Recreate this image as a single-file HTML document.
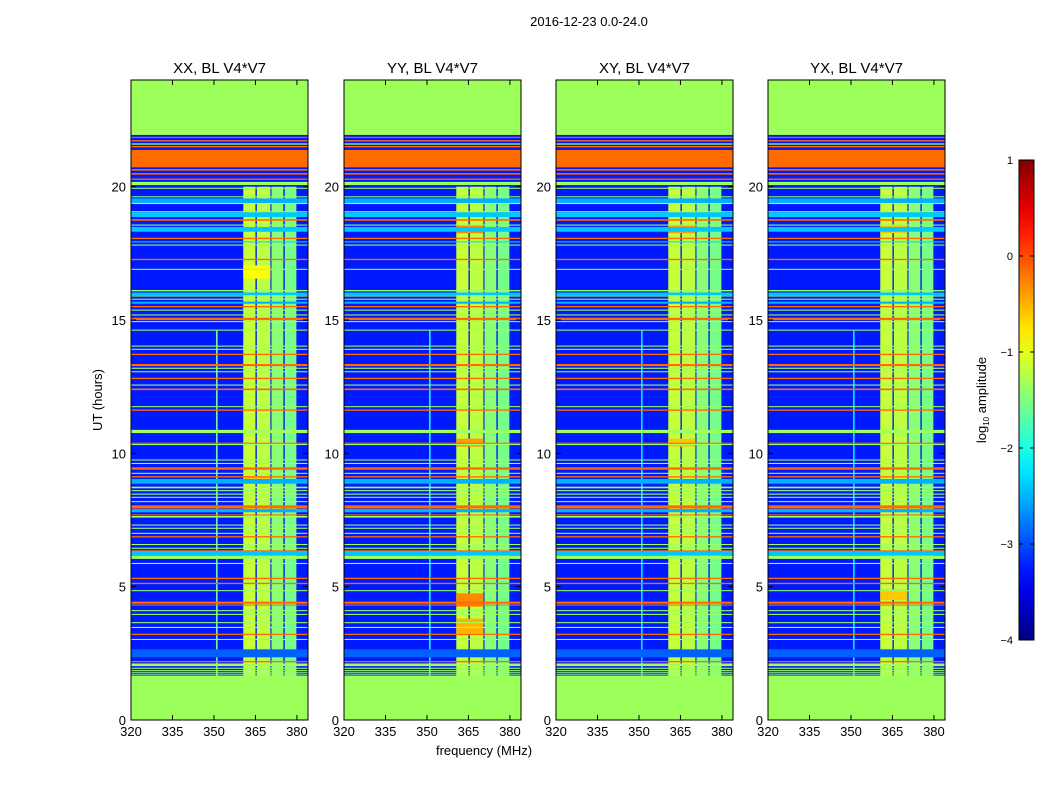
<!DOCTYPE html>
<html><head><meta charset="utf-8"><style>
html,body{margin:0;padding:0;background:#fff;}
svg{display:block;font-family:"Liberation Sans",sans-serif;}
</style></head><body>
<svg id="fig" width="1050" height="800" viewBox="0 0 1050 800"></svg>
<script>
// ---- data ----
const panelTitles = ["XX, BL V4*V7","YY, BL V4*V7","XY, BL V4*V7","YX, BL V4*V7"];
const xTicks = [320,335,350,365,380];
const yTicks = [0,5,10,15,20];
const cbTicks = [1,0,-1,-2,-3,-4];
const dataStart = 1.65, dataEnd = 21.94;
const bgValue = -3.25;
// horizontal RFI stripes: centre hour, thickness (hours), log10 amplitude
const stripeHours  = [21.85,21.72,21.6,21.5,21.05,20.63,20.48,20.28,20.12,19.94,19.62,19.47,19.37,19.06,18.95,18.75,18.56,18.4,18.06,17.93,17.81,17.27,16.9,16.1,15.98,15.9,15.78,15.65,15.5,15.37,15.19,15.04,14.94,14.62,14.02,13.9,13.71,13.31,13.19,13.06,12.81,12.56,12.4,11.75,11.62,10.82,10.38,10.33,9.75,9.62,9.43,9.25,9.12,8.95,8.72,8.6,8.47,8.35,8.19,7.99,7.85,7.69,7.62,7.31,7.19,7.0,6.87,6.58,6.44,6.34,6.25,6.1,5.87,5.31,5.12,4.85,4.4,4.31,4.1,3.96,3.65,3.47,3.21,3.02,2.5,2.19,2.07,1.94,1.85,1.77,1.69];
const stripeWidths = [0.04,0.05,0.05,0.05,0.65,0.06,0.06,0.05,0.12,0.04,0.04,0.18,0.04,0.04,0.18,0.06,0.04,0.18,0.05,0.04,0.04,0.05,0.04,0.05,0.1,0.04,0.04,0.08,0.05,0.04,0.04,0.09,0.04,0.04,0.04,0.04,0.05,0.08,0.04,0.04,0.05,0.04,0.06,0.04,0.05,0.12,0.04,0.04,0.04,0.04,0.09,0.04,0.05,0.18,0.06,0.04,0.04,0.04,0.04,0.12,0.12,0.04,0.06,0.04,0.04,0.04,0.05,0.04,0.04,0.05,0.18,0.12,0.04,0.05,0.05,0.04,0.08,0.04,0.04,0.04,0.04,0.04,0.05,0.04,0.3,0.05,0.1,0.04,0.04,0.04,0.04];
const stripeValues = [-0.15,-0.15,-1.35,-0.15,-0.15,-0.15,-0.15,-0.15,-1.35,-1.35,-1.35,-2.5,-1.35,-1.35,-2.4,-0.15,-1.35,-2.4,-0.15,-2.3,-1.35,-0.15,-1.35,-1.35,-2.4,-1.35,-1.35,-2.5,-0.15,-1.35,-1.35,-0.15,-1.35,-1.35,-1.35,-1.35,-0.15,-0.15,-1.35,-1.35,-0.15,-1.35,-0.15,-1.35,-0.15,-1.35,-0.15,-1.35,-1.35,-1.35,-0.15,-1.35,-0.15,-2.5,-1.35,-1.35,-1.35,-1.35,-1.35,-0.15,-2.5,-0.15,-1.35,-1.35,-1.35,-1.35,-0.15,-1.35,-1.35,-0.15,-2.4,-1.35,-1.35,-0.15,-0.15,-1.35,-0.15,-0.15,-1.35,-1.35,-1.35,-1.35,-0.15,-1.35,-2.9,-0.15,-1.35,-1.35,-1.35,-1.35,-1.35];
// vertical band of channels (MHz) with amplitude
const bandStart = [360.6,365.5,370.8,375.6];
const bandEnd   = [365.0,370.4,375.1,379.8];
const bandValue = [-1.15,-1.2,-1.45,-1.55];
// narrow vertical line per panel
const lineFreq = 351.0;
const lineStartH = [14.6,14.6,14.6,14.6];
const lineValue = [-1.6,-2.1,-2.2,-2.2];
// extra hot patches in the band: panel index, hour, thickness, value
const patchPanel = [0,0,1,1,1,1,2,2,3,3];
const patchHour  = [16.8,9.0,18.4,10.4,4.5,3.5,18.4,10.4,18.4,4.7];
const patchThick = [0.5,0.3,0.3,0.3,0.5,0.6,0.3,0.3,0.3,0.4];
const patchValue = [-0.9,-0.6,-0.3,-0.4,-0.3,-0.5,-0.4,-0.6,-0.6,-0.6];

// ---- geometry ----
const lefts=[131,344,556,768], PW=177, TOP=80, PH=640;
const fMin=320, fMax=384, hMax=24;
const NS="http://www.w3.org/2000/svg";
const svg=document.getElementById('fig');
function jet(v){const x=Math.max(0,Math.min(1,(v+4)/5));
 const c=t=>Math.round(255*Math.max(0,Math.min(1,1.5-Math.abs(t))));
 return `rgb(${c(4*x-3)},${c(4*x-2)},${c(4*x-1)})`;}
function mk(tag,attrs,parent){const e=document.createElementNS(NS,tag);for(const k in attrs)e.setAttribute(k,attrs[k]);(parent||svg).appendChild(e);return e;}
const NANCOL="#9cff5a";

function txt(x,y,s,size,anchor,parent){const t=mk('text',{x:x,y:y,'font-size':size,'text-anchor':anchor||'middle',fill:'#000'},parent);t.textContent=s;return t;}

const sup=txt(589,26,"2016-12-23 0.0-24.0",13);



lefts.forEach((L,p)=>{
 const xs=f=>L+(f-fMin)/(fMax-fMin)*PW;
 const ys=h=>TOP+PH-h/hMax*PH;
 const g=mk('g',{});
 
 
 const nanTop=mk('rect',{x:L,y:TOP,width:PW,height:ys(dataEnd)-TOP,fill:NANCOL},g);
 
 
 const nanBot=mk('rect',{x:L,y:ys(dataStart),width:PW,height:TOP+PH-ys(dataStart),fill:NANCOL},g);
 
 
 const bg=mk('rect',{x:L,y:ys(dataEnd),width:PW,height:ys(dataStart)-ys(dataEnd),fill:jet(bgValue)},g);
 
 
 const vl=mk('rect',{x:xs(lineFreq)-0.7,y:ys(lineStartH[p]),width:1.6,height:ys(dataStart)-ys(lineStartH[p]),fill:jet(lineValue[p])},g);
 
 
 bandStart.forEach((b,i)=>{
  const r=mk('rect',{x:xs(b),y:ys(20.0),width:xs(bandEnd[i])-xs(b),height:ys(dataStart)-ys(20.0),fill:jet(bandValue[i])},g);
  
  
 });
 patchPanel.forEach((pp,i)=>{ if(pp!==p)return;
  const r=mk('rect',{x:xs(bandStart[0]),y:ys(patchHour[i]+patchThick[i]/2),width:xs(bandEnd[1])-xs(bandStart[0]),height:patchThick[i]/hMax*PH,fill:jet(patchValue[i])},g);
  
  
 });
 stripeHours.forEach((h,i)=>{
  const r=mk('rect',{x:L,y:ys(h+stripeWidths[i]/2),width:PW,height:Math.max(1,stripeWidths[i]/hMax*PH),fill:jet(stripeValues[i])},g);
  
  
 });
 const fr=mk('rect',{x:L,y:TOP,width:PW,height:PH,fill:'none',stroke:'#000','stroke-width':1},g);
 
 
 xTicks.forEach(t=>{const x=xs(t);
  mk('line',{x1:x,x2:x,y1:TOP+PH,y2:TOP+PH-5,stroke:'#000'},g);
  mk('line',{x1:x,x2:x,y1:TOP,y2:TOP+5,stroke:'#000'},g);
  const tl=txt(x,TOP+PH+16,String(t),13,'middle',g);
  
  
 });
 yTicks.forEach(t=>{const y=ys(t);
  mk('line',{x1:L,x2:L+5,y1:y,y2:y,stroke:'#000'},g);
  mk('line',{x1:L+PW,x2:L+PW-5,y1:y,y2:y,stroke:'#000'},g);
  const tl=txt(L-5,y+5,String(t),13,'end',g);
  
  
 });
 const tt=txt(L+PW/2,73,panelTitles[p],15,'middle',g);
 
 
});

const yl=txt(0,0,"UT (hours)",13);
yl.setAttribute('transform','translate(102,400) rotate(-90)');


const xl=txt(484,755,"frequency (MHz)",13);



const defs=mk('defs',{});
const grad=mk('linearGradient',{id:'jetg',x1:0,y1:1,x2:0,y2:0},defs);
for(let i=0;i<=20;i++){mk('stop',{offset:i/20,'stop-color':jet(-4+5*i/20)},grad);}
const cb=mk('rect',{x:1019,y:160,width:15,height:480,fill:'url(#jetg)',stroke:'#000','stroke-width':1});


cbTicks.forEach(v=>{const y=160+(1-v)/5*480;
 mk('line',{x1:1019,x2:1023,y1:y,y2:y,stroke:'#000'});
 mk('line',{x1:1034,x2:1030,y1:y,y2:y,stroke:'#000'});
 const tl=txt(1013,y+4,v<0?'\u2212'+(-v):String(v),11,'end');
 
 
});
const cl=mk('text',{'font-size':13,'text-anchor':'middle',transform:'translate(986,400) rotate(-90)'});
cl.innerHTML='log<tspan font-size="8" dy="3">10</tspan><tspan dy="-3"> amplitude</tspan>';


</script>
</body></html>
